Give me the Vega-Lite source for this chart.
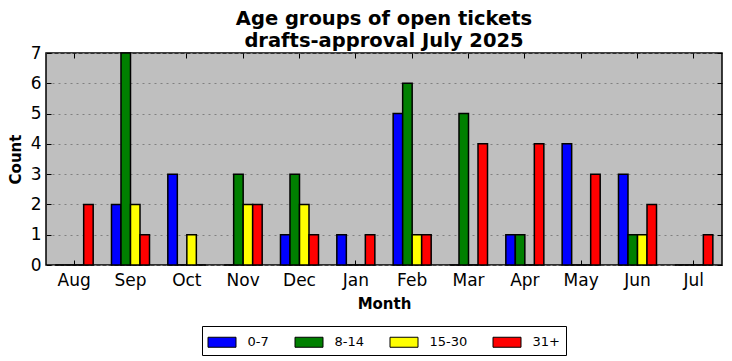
{
  "$schema": "https://vega.github.io/schema/vega-lite/v6.json",
  "width": 676,
  "height": 212,
  "autosize": {"type": "none"},
  "padding": {"left": 46, "top": 53, "right": 10, "bottom": 96},
  "background": "white",
  "title": {
    "text": ["Age groups of open tickets", "drafts-approval July 2025"],
    "font": "DejaVu Sans",
    "fontSize": 19.5,
    "fontWeight": "bold",
    "color": "black",
    "lineHeight": 22,
    "offset": -7,
    "anchor": "middle"
  },
  "data": {
    "values": [
      {"month": "Aug", "group": "0-7", "count": 0},
      {"month": "Aug", "group": "8-14", "count": 0},
      {"month": "Aug", "group": "15-30", "count": 0},
      {"month": "Aug", "group": "31+", "count": 2},
      {"month": "Sep", "group": "0-7", "count": 2},
      {"month": "Sep", "group": "8-14", "count": 7},
      {"month": "Sep", "group": "15-30", "count": 2},
      {"month": "Sep", "group": "31+", "count": 1},
      {"month": "Oct", "group": "0-7", "count": 3},
      {"month": "Oct", "group": "8-14", "count": 0},
      {"month": "Oct", "group": "15-30", "count": 1},
      {"month": "Oct", "group": "31+", "count": 0},
      {"month": "Nov", "group": "0-7", "count": 0},
      {"month": "Nov", "group": "8-14", "count": 3},
      {"month": "Nov", "group": "15-30", "count": 2},
      {"month": "Nov", "group": "31+", "count": 2},
      {"month": "Dec", "group": "0-7", "count": 1},
      {"month": "Dec", "group": "8-14", "count": 3},
      {"month": "Dec", "group": "15-30", "count": 2},
      {"month": "Dec", "group": "31+", "count": 1},
      {"month": "Jan", "group": "0-7", "count": 1},
      {"month": "Jan", "group": "8-14", "count": 0},
      {"month": "Jan", "group": "15-30", "count": 0},
      {"month": "Jan", "group": "31+", "count": 1},
      {"month": "Feb", "group": "0-7", "count": 5},
      {"month": "Feb", "group": "8-14", "count": 6},
      {"month": "Feb", "group": "15-30", "count": 1},
      {"month": "Feb", "group": "31+", "count": 1},
      {"month": "Mar", "group": "0-7", "count": 0},
      {"month": "Mar", "group": "8-14", "count": 5},
      {"month": "Mar", "group": "15-30", "count": 0},
      {"month": "Mar", "group": "31+", "count": 4},
      {"month": "Apr", "group": "0-7", "count": 1},
      {"month": "Apr", "group": "8-14", "count": 1},
      {"month": "Apr", "group": "15-30", "count": 0},
      {"month": "Apr", "group": "31+", "count": 4},
      {"month": "May", "group": "0-7", "count": 4},
      {"month": "May", "group": "8-14", "count": 0},
      {"month": "May", "group": "15-30", "count": 0},
      {"month": "May", "group": "31+", "count": 3},
      {"month": "Jun", "group": "0-7", "count": 3},
      {"month": "Jun", "group": "8-14", "count": 1},
      {"month": "Jun", "group": "15-30", "count": 1},
      {"month": "Jun", "group": "31+", "count": 2},
      {"month": "Jul", "group": "0-7", "count": 0},
      {"month": "Jul", "group": "8-14", "count": 0},
      {"month": "Jul", "group": "15-30", "count": 0},
      {"month": "Jul", "group": "31+", "count": 1}
    ]
  },
  "layer": [
    {
      "mark": {"type": "bar", "stroke": "black", "strokeWidth": 1.5},
      "encoding": {
        "x": {
          "field": "month",
          "type": "nominal",
          "sort": ["Aug", "Sep", "Oct", "Nov", "Dec", "Jan", "Feb", "Mar", "Apr", "May", "Jun", "Jul"],
          "scale": {"paddingInner": 0.325, "paddingOuter": 0.1625},
          "axis": {
            "title": "Month",
            "labelAngle": 0,
            "offset": -5,
            "ticks": true,
            "tickSize": 5,
            "labelPadding": 7,
            "tickColor": "black",
            "tickWidth": 1,
            "domain": false,
            "grid": false,
            "labelFontSize": 17,
            "titleFontSize": 15,
            "titlePadding": 8,
            "zindex": 0
          }
        },
        "xOffset": {
          "field": "group",
          "type": "nominal",
          "sort": ["0-7", "8-14", "15-30", "31+"],
          "scale": {"paddingInner": 0, "paddingOuter": 0}
        },
        "y": {
          "field": "count",
          "type": "quantitative",
          "scale": {"domain": [0, 7], "nice": false},
          "axis": {
            "title": "Count",
            "values": [0, 1, 2, 3, 4, 5, 6, 7],
            "offset": -5,
            "ticks": true,
            "tickSize": 5,
            "labelPadding": 5,
            "tickColor": "black",
            "tickWidth": 1,
            "domain": false,
            "grid": true,
            "gridColor": "#808080",
            "gridDash": [2, 4],
            "gridWidth": 1,
            "labelFontSize": 17,
            "titleFontSize": 15,
            "titlePadding": 7
          }
        },
        "color": {
          "field": "group",
          "type": "nominal",
          "sort": ["0-7", "8-14", "15-30", "31+"],
          "scale": {"domain": ["0-7", "8-14", "15-30", "31+"], "range": ["#0000ff", "#008000", "#ffff00", "#ff0000"]},
          "legend": {
            "title": null,
            "orient": "none",
            "legendX": 156,
            "legendY": 273,
            "direction": "horizontal",
            "symbolType": "M-1,-0.5H1.8V0.5H-1Z",
            "symbolSize": 400,
            "symbolStrokeColor": "black",
            "symbolStrokeWidth": 1,
            "symbolOpacity": 1,
            "labelFontSize": 13,
            "labelOffset": 19,
            "columnPadding": 23,
            "padding": 5.5,
            "strokeColor": "black",
            "fillColor": "white"
          }
        }
      }
    },
    {
      "mark": {"type": "bar", "opacity": 0, "strokeOpacity": 0},
      "encoding": {
        "x": {
          "field": "month",
          "type": "nominal",
          "sort": ["Aug", "Sep", "Oct", "Nov", "Dec", "Jan", "Feb", "Mar", "Apr", "May", "Jun", "Jul"],
          "axis": {
            "orient": "top",
            "title": null,
            "labels": false,
            "offset": -5,
            "ticks": true,
            "tickSize": 5,
            "tickColor": "black",
            "tickWidth": 1,
            "domain": false,
            "grid": false,
            "zindex": 0
          }
        },
        "xOffset": {
          "field": "group",
          "type": "nominal",
          "sort": ["0-7", "8-14", "15-30", "31+"]
        },
        "y": {
          "field": "count",
          "type": "quantitative",
          "axis": {
            "orient": "right",
            "title": null,
            "labels": false,
            "values": [0, 1, 2, 3, 4, 5, 6, 7],
            "offset": -5,
            "ticks": true,
            "tickSize": 5,
            "tickColor": "black",
            "tickWidth": 1,
            "domain": false,
            "grid": false,
            "zindex": 1
          }
        }
      }
    }
  ],
  "resolve": {"axis": {"x": "independent", "y": "independent"}},
  "config": {
    "font": "DejaVu Sans",
    "view": {"fill": "#bfbfbf", "stroke": "black", "strokeWidth": 1.5},
    "axis": {
      "labelFont": "DejaVu Sans",
      "titleFont": "DejaVu Sans",
      "labelColor": "black",
      "titleColor": "black",
      "titleFontWeight": "bold"
    },
    "legend": {"labelFont": "DejaVu Sans", "labelColor": "black"}
  }
}
